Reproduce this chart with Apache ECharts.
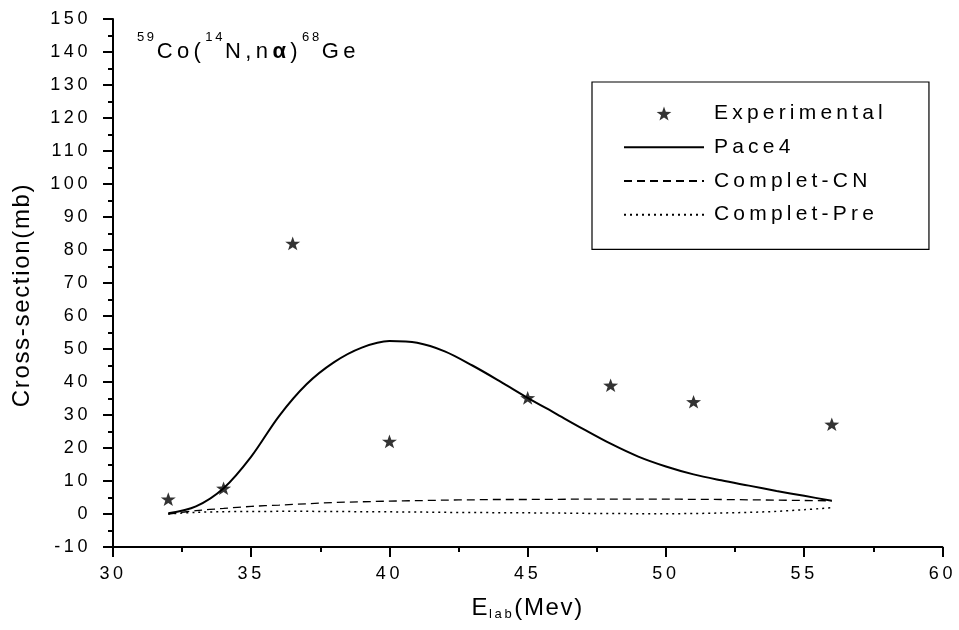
<!DOCTYPE html>
<html>
<head>
<meta charset="utf-8">
<script src="https://cdn.jsdelivr.net/npm/echarts@6/dist/echarts.min.js"></script>
<style>html,body{margin:0;padding:0;background:#fff;}#c{width:959px;height:630px;}</style>
</head>
<body>
<div id="c"></div>
<script>
// ---- data ----
const expEnergy = [32, 34, 36.5, 40, 45, 48, 51, 56];
const expSigma  = [4.5, 7.8, 82, 22, 35.2, 39, 34, 27.2];

const modelEnergy = [32,33,34,35,36,37,38,39,40,41,42,43,44,45,46,47,48,49,50,51,52,53,54,55,56];
const pace4      = [0.2,2.3,7.8,17.4,29.6,39.3,46,50.4,52.4,51.9,49.3,45,40.2,35.2,30.5,25.8,21.3,17.4,14.4,12.0,10.2,8.6,7.0,5.5,4.0];
const completCN  = [0,1.0,1.7,2.3,2.7,3.1,3.5,3.7,3.9,4.05,4.2,4.3,4.4,4.4,4.45,4.5,4.5,4.5,4.5,4.45,4.4,4.3,4.2,4.1,4.0];
const completPre = [0,0.5,0.7,0.75,0.8,0.8,0.75,0.7,0.65,0.6,0.5,0.45,0.4,0.35,0.3,0.2,0.15,0.1,0.1,0.15,0.3,0.5,0.8,1.3,1.9];

const xTicks = {min: 30, max: 60, step: 5};
const yTicks = {min: -10, max: 150, step: 10};

// letter spacing to mimic the wide-spaced Origin text
(function(){
  var P = CanvasRenderingContext2D.prototype;
  function ls(ctx){
    var m = /(\d+(?:\.\d+)?)px/.exec(ctx.font || '');
    var s = m ? parseFloat(m[1]) : 12;
    var k = s >= 23 ? 0.07 : 0.2;
    try { ctx.letterSpacing = (s * k).toFixed(2) + 'px'; } catch (e) {}
  }
  var ft = P.fillText, mt = P.measureText;
  P.fillText = function(){ ls(this); return ft.apply(this, arguments); };
  P.measureText = function(){ ls(this); return mt.apply(this, arguments); };
})();

const pair = (xs, ys) => xs.map((x, i) => [x, ys[i]]);
const star = 'path://M0,-10 L2.35,-3.24 9.51,-3.09 3.8,1.24 5.88,8.09 0,4 -5.88,8.09 -3.8,1.24 -9.51,-3.09 -2.35,-3.24 Z';
const FONT = 'Arial, "Liberation Sans", sans-serif';
const hideSym = {itemStyle: {opacity: 0}};

const chart = echarts.init(document.getElementById('c'), null, {renderer: 'canvas'});
chart.setOption({
  animation: false,
  backgroundColor: '#fff',
  title: {
    left: 137, top: 30, padding: 0,
    text: '{sup|59}{m|Co(}{sup|14}{m|N,n}{a|α}{m|)}{sup|68}{m|Ge}',
    textStyle: {
      fontWeight: 'normal',
      rich: {
        sup: {fontSize: 13, lineHeight: 13, verticalAlign: 'top', color: '#000', fontWeight: 'normal', fontFamily: FONT},
        m: {fontSize: 22, lineHeight: 35, verticalAlign: 'bottom', color: '#000', fontWeight: 'normal', fontFamily: FONT},
        a: {fontSize: 22, lineHeight: 35, verticalAlign: 'bottom', color: '#000', fontWeight: 'bold', fontFamily: FONT}
      }
    }
  },
  legend: {
    left: 592, top: 82, orient: 'vertical',
    itemWidth: 80, itemHeight: 14, itemGap: 8.5,
    padding: [19, 42, 22, 31],
    borderColor: '#000', borderWidth: 1.2,
    textStyle: {fontSize: 21, color: '#000', fontFamily: FONT, padding: [0, 0, 0, 5]},
    data: [
      {name: 'Experimental'},
      Object.assign({name: 'Pace4'}, hideSym),
      Object.assign({name: 'Complet-CN'}, hideSym),
      Object.assign({name: 'Complet-Pre'}, hideSym)
    ]
  },
  grid: {left: 113, right: 13, top: 19, bottom: 83},
  xAxis: {
    type: 'value', min: xTicks.min, max: xTicks.max, interval: xTicks.step,
    name: '{e|E}{s|lab}{e|(Mev)}', nameLocation: 'middle', nameGap: 49,
    nameTextStyle: {
      rich: {
        e: {fontSize: 24, lineHeight: 26, verticalAlign: 'top', color: '#000', fontFamily: FONT},
        s: {fontSize: 13, lineHeight: 14, verticalAlign: 'bottom', color: '#000', fontFamily: FONT}
      },
      lineHeight: 33
    },
    axisLine: {onZero: false, lineStyle: {color: '#000', width: 2}},
    axisTick: {inside: false, length: 10, lineStyle: {color: '#000', width: 2}},
    minorTick: {show: true, splitNumber: 2, length: 5, lineStyle: {color: '#000', width: 2}},
    axisLabel: {color: '#000', fontSize: 18, fontFamily: FONT, margin: 16},
    splitLine: {show: false}
  },
  yAxis: {
    type: 'value', min: yTicks.min, max: yTicks.max, interval: yTicks.step,
    name: 'Cross-section(mb)', nameLocation: 'middle', nameGap: 78,
    nameTextStyle: {fontSize: 24, color: '#000', fontFamily: FONT, padding: [0, 24, 0, 0]},
    axisLine: {onZero: false, lineStyle: {color: '#000', width: 2}},
    axisTick: {inside: false, length: 10, lineStyle: {color: '#000', width: 2}},
    minorTick: {show: true, splitNumber: 2, length: 5, lineStyle: {color: '#000', width: 2}},
    axisLabel: {color: '#000', fontSize: 18, fontFamily: FONT, margin: 22},
    splitLine: {show: false}
  },
  series: [
    {
      name: 'Experimental', type: 'scatter',
      symbol: star, symbolSize: [15, 14.3], symbolKeepAspect: true,
      itemStyle: {color: '#000'},
      data: pair(expEnergy, expSigma), z: 5
    },
    {
      name: 'Pace4', type: 'line', smooth: 0.33, symbol: 'none',
      lineStyle: {color: '#000', width: 2, type: 'solid'}, itemStyle: {color: '#000'},
      data: pair(modelEnergy, pace4)
    },
    {
      name: 'Complet-CN', type: 'line', smooth: 0.33, symbol: 'none',
      lineStyle: {color: '#000', width: 1.3, type: [8, 5]}, itemStyle: {color: '#000'},
      data: pair(modelEnergy, completCN)
    },
    {
      name: 'Complet-Pre', type: 'line', smooth: 0.33, symbol: 'none',
      lineStyle: {color: '#000', width: 1.5, type: [2, 4]}, itemStyle: {color: '#000'},
      data: pair(modelEnergy, completPre)
    }
  ]
});
</script>
</body>
</html>
